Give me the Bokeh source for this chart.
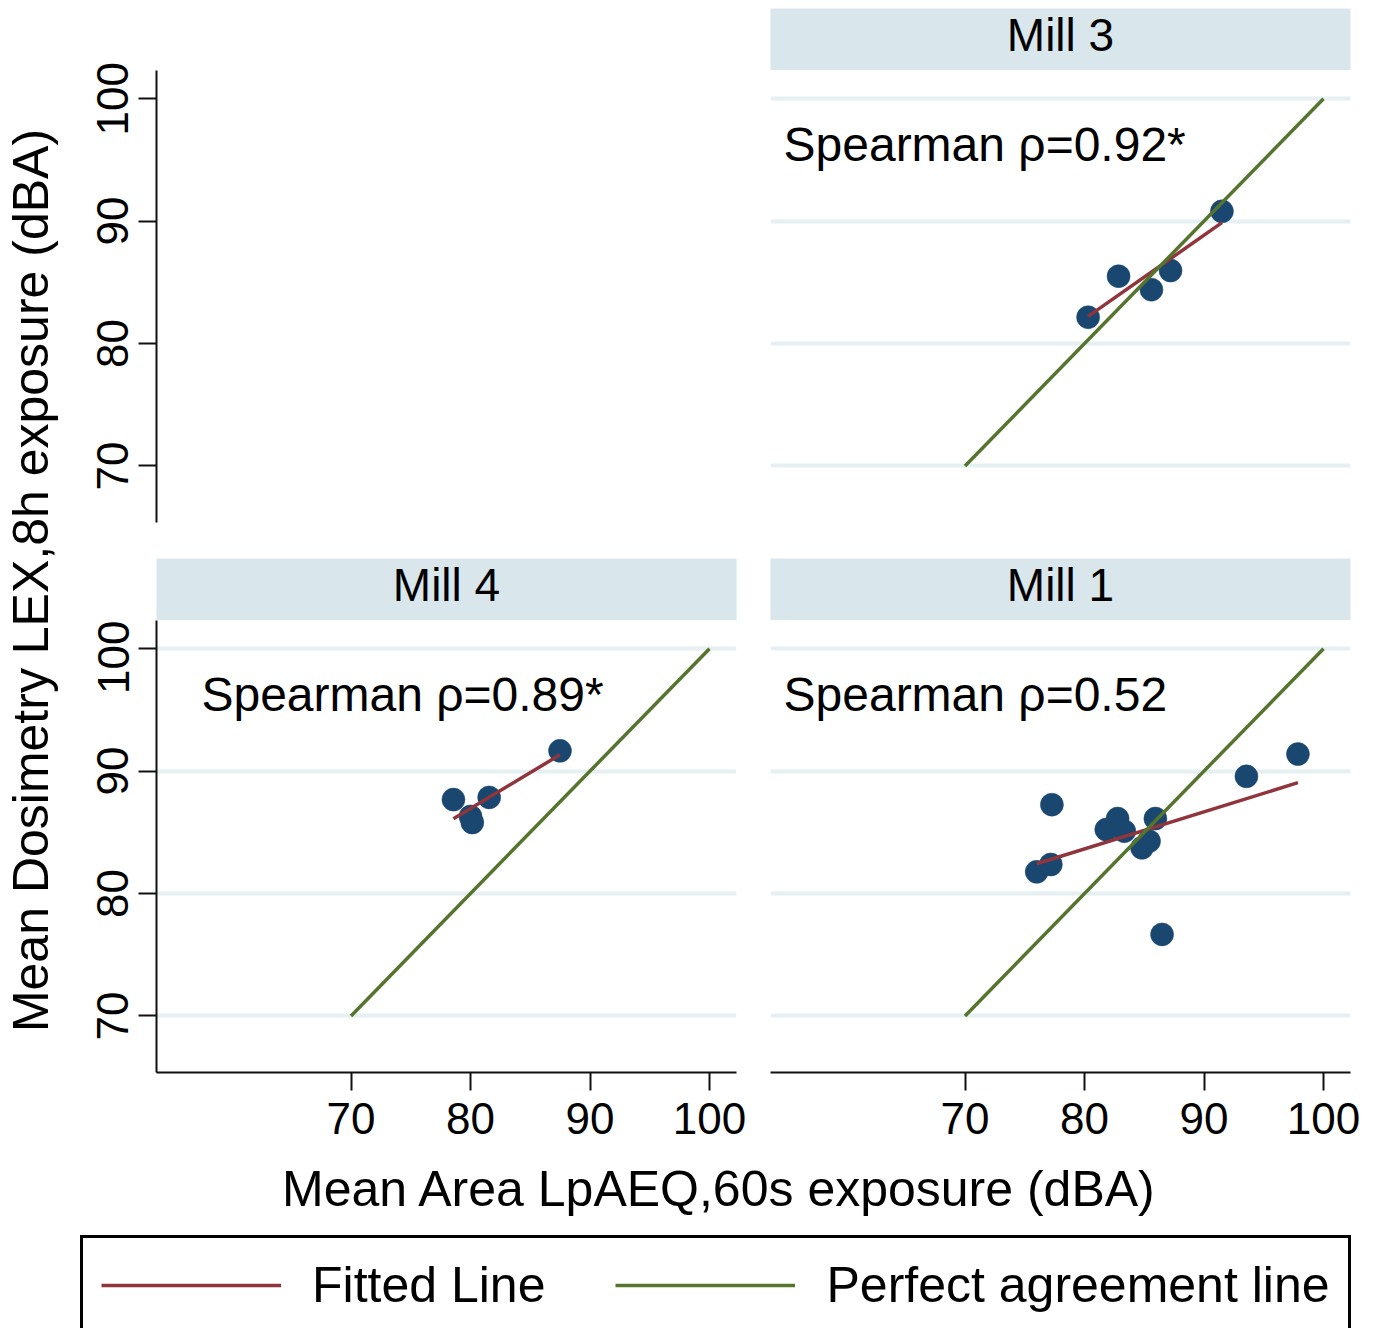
import math
import numpy as np
from bokeh.plotting import figure
from bokeh.layouts import row, column
from bokeh.models import Range1d, FixedTicker, Legend, LegendItem
from bokeh.core.properties import value
from bokeh.embed import file_html
from bokeh.resources import INLINE

# ---------------- data ----------------
MILL3_X = [80.3, 82.85, 85.6, 87.2, 91.5]
MILL3_Y = [82.15, 85.5, 84.4, 85.96, 90.8]

MILL4_X = [78.57, 80.0, 80.15, 81.56, 87.49]
MILL4_Y = [87.67, 86.3, 85.8, 87.85, 91.66]

MILL1_X = [77.27, 76.0, 77.18, 81.82, 82.77, 83.33, 85.93, 84.81, 85.4, 86.49, 93.55, 97.86]
MILL1_Y = [87.26, 81.77, 82.37, 85.22, 86.12, 85.09, 86.12, 83.73, 84.27, 76.66, 89.57, 91.39]

PANEL_TITLES = ["Mill 3", "Mill 4", "Mill 1"]
SPEARMAN = ["Spearman \u03c1=0.92*", "Spearman \u03c1=0.89*", "Spearman \u03c1=0.52"]
PERFECT = [70, 100]
TICKS = [70, 80, 90, 100]
X_TITLE = "Mean Area LpAEQ,60s exposure (dBA)"
Y_TITLE = "Mean Dosimetry LEX,8h exposure (dBA)"
LEGEND_LABELS = ["Fitted Line", "Perfect agreement line"]

# ---------------- styles ----------------
FONT = "Liberation Sans"
NAVY = "#1a476f"
MAROON = "#90353b"
GREEN = "#55752f"
STRIP = "#d9e6eb"
GRID = "#e6eff2"
AXIS = "#111111"

XR = (53.72, 102.26)
YR = (65.38, 102.3)


def base_fig(width, height, mbl, mbr, mbt, mbb, xloc=None, yloc=None,
             xr=XR, yr=YR):
    p = figure(width=width, height=height,
               x_range=Range1d(*xr), y_range=Range1d(*yr),
               output_backend="svg", toolbar_location=None,
               x_axis_location=xloc, y_axis_location=yloc,
               min_border_left=mbl, min_border_right=mbr,
               min_border_top=mbt, min_border_bottom=mbb)
    p.outline_line_color = None
    p.background_fill_color = "white"
    p.border_fill_color = "white"
    p.xgrid.visible = False
    p.ygrid.visible = False
    return p


def style_axis(ax, vertical=False, standoff=4):
    ax.ticker = FixedTicker(ticks=TICKS)
    ax.axis_line_color = AXIS
    ax.axis_line_width = 2
    ax.major_tick_line_color = AXIS
    ax.major_tick_line_width = 2
    ax.major_tick_in = 0
    ax.major_tick_out = 18
    ax.minor_tick_in = 0
    ax.minor_tick_out = 0
    ax.major_label_text_font = FONT
    ax.major_label_text_font_size = "44px"
    ax.major_label_text_color = "black"
    ax.major_label_standoff = standoff
    if vertical:
        ax.major_label_orientation = "parallel"


def add_panel_content(p, xs, ys, label, lx):
    p.ygrid.visible = True
    p.ygrid.ticker = FixedTicker(ticks=TICKS)
    p.ygrid.grid_line_color = GRID
    p.ygrid.grid_line_width = 4
    p.scatter(xs, ys, size=23, fill_color=NAVY, line_color=NAVY, line_width=0.5)
    coef = np.polyfit(xs, ys, 1)
    fx = [min(xs), max(xs)]
    fy = list(np.polyval(coef, fx))
    p.line(fx, fy, line_color=MAROON, line_width=3.5)
    p.line(PERFECT, PERFECT, line_color=GREEN, line_width=3.5)
    p.text(x=[lx], y=[96.25], text=[label], text_font=value(FONT),
           text_font_size="48px", text_color="black",
           text_align="left", text_baseline="middle")


def strip_fig(width, height, mbl, mbr, mbt, title):
    p = base_fig(width, height, mbl, mbr, mbt, 0, xr=(0, 1), yr=(0, 1))
    p.background_fill_color = STRIP
    p.text(x=[0.5], y=[0.57], text=[title], text_font=value(FONT),
           text_font_size="46px", text_color="black",
           text_align="center", text_baseline="middle")
    return p


# ---------------- geometry (page pixels) ----------------
YT_W = 68
LEFT_W = 88 + 580 + 17
RIGHT_W = 17 + 580 + 18
FULL_W = YT_W + LEFT_W + RIGHT_W

# ---------------- row 1 ----------------
tl = base_fig(LEFT_W, 540, 88, 17, 70, 18, yloc="left")
style_axis(tl.yaxis[0], vertical=True, standoff=10)

s3 = strip_fig(RIGHT_W, 70, 17, 18, 8, PANEL_TITLES[0])
m3 = base_fig(RIGHT_W, 470, 17, 18, 0, 18)
add_panel_content(m3, MILL3_X, MILL3_Y, SPEARMAN[0], 54.81)

# ---------------- row 2 ----------------
s4 = strip_fig(LEFT_W, 80, 88, 17, 18, PANEL_TITLES[1])
m4 = base_fig(LEFT_W, 537, 88, 17, 0, 85, xloc="below", yloc="left")
style_axis(m4.yaxis[0], vertical=True, standoff=10)
style_axis(m4.xaxis[0], standoff=12)
add_panel_content(m4, MILL4_X, MILL4_Y, SPEARMAN[1], 57.48)

s1 = strip_fig(RIGHT_W, 80, 17, 18, 18, PANEL_TITLES[2])
m1 = base_fig(RIGHT_W, 537, 17, 18, 0, 85, xloc="below")
style_axis(m1.xaxis[0], standoff=12)
add_panel_content(m1, MILL1_X, MILL1_Y, SPEARMAN[2], 54.81)

# ---------------- shared y title ----------------
GRID_H = 540 + 80 + 537
yt = base_fig(YT_W, GRID_H, 0, 0, 0, 0, xr=(0, YT_W), yr=(0, GRID_H))
yt.text(x=[30], y=[GRID_H - 580], text=[Y_TITLE], text_font=value(FONT),
        text_font_size="50px", text_color="black", angle=math.pi / 2,
        text_align="center", text_baseline="middle")

# ---------------- shared x title ----------------
XT_H = 68
xt = base_fig(FULL_W, XT_H, 0, 0, 0, 0, xr=(0, FULL_W), yr=(0, XT_H))
xt.text(x=[679], y=[XT_H - 31], text=[X_TITLE], text_font=value(FONT),
        text_font_size="50px", text_color="black",
        text_align="center", text_baseline="middle")

# ---------------- legend ----------------
lg = base_fig(FULL_W, 103, 80, 0, 10, 0, xr=(0, 1), yr=(0, 1))
r_fit = lg.line(MILL1_X[:2], MILL1_Y[:2], line_color=MAROON, line_width=3.5)
r_perf = lg.line(PERFECT, PERFECT, line_color=GREEN, line_width=3.5)
legend = Legend(items=[LegendItem(label=LEGEND_LABELS[0], renderers=[r_fit]),
                       LegendItem(label=LEGEND_LABELS[1], renderers=[r_perf])],
                location="top_left", orientation="horizontal", margin=0,
                padding=18, spacing=70, glyph_width=180, glyph_height=40,
                label_standoff=31, label_text_font=FONT,
                label_text_font_size="50px", label_text_color="black",
                border_line_color="black", border_line_width=3,
                border_line_alpha=1.0,
                background_fill_color="white", background_fill_alpha=1.0)
lg.add_layout(legend)

layout = column(
    row(yt, column(row(tl, column(s3, m3)),
                   row(column(s4, m4), column(s1, m1)))),
    xt,
    lg,
)

open("out.html", "w").write(file_html(layout, INLINE))
